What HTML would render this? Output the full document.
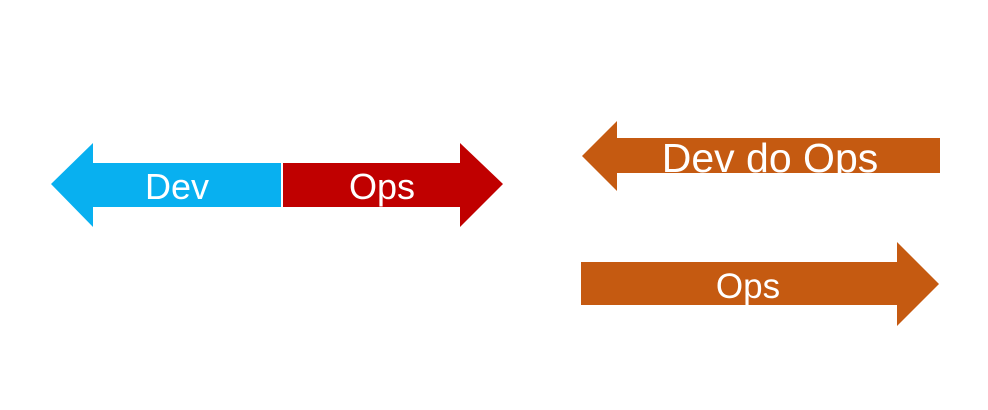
<!DOCTYPE html>
<html><head><meta charset="utf-8"><style>html,body{margin:0;padding:0;background:#fff;}svg{display:block;}</style></head><body>
<svg width="988" height="410" viewBox="0 0 988 410" xmlns="http://www.w3.org/2000/svg" font-family="Liberation Sans, sans-serif">
<polygon points="51,184 93,143 93,163 281,163 281,207 93,207 93,227" fill="#08b0f0"/>
<polygon points="283,163 460,163 460,143 503,184 460,227 460,207 283,207" fill="#c00000"/>
<text x="177" y="199" font-size="36" fill="#fff" text-anchor="middle">Dev</text>
<text x="382" y="199" font-size="36" fill="#fff" text-anchor="middle">Ops</text>
<polygon points="582,156 617,121 617,138 940,138 940,173 617,173 617,191" fill="#c55a11"/>
<text x="770" y="172" font-size="41" fill="#fff" text-anchor="middle">Dev do Ops</text>
<polygon points="581,262 897,262 897,242 939,284 897,326 897,305 581,305" fill="#c55a11"/>
<text x="748" y="298" font-size="35" fill="#fff" text-anchor="middle">Ops</text>
</svg>
</body></html>
